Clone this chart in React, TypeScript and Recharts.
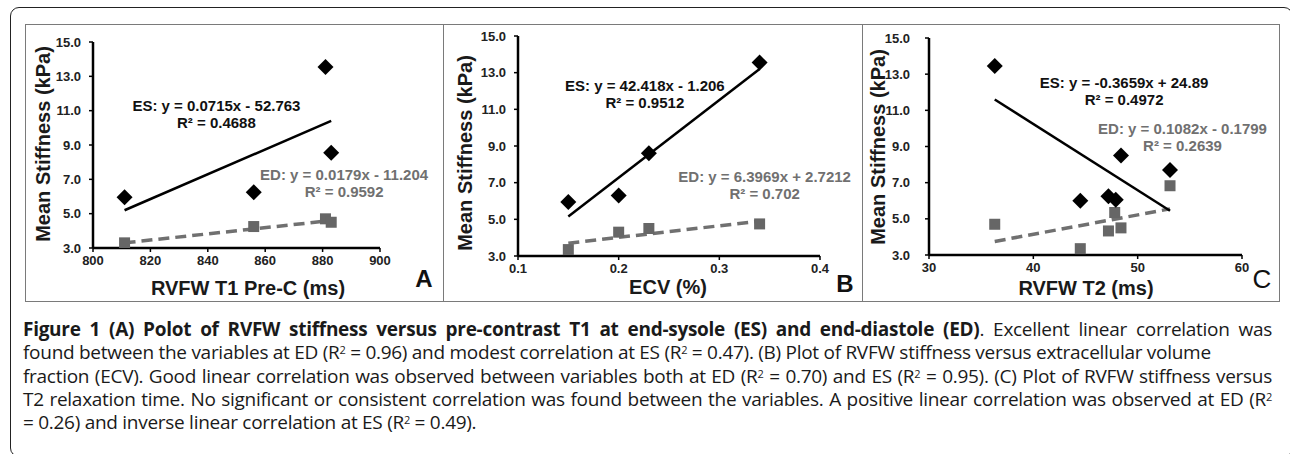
import React from 'react'
import { ScatterChart, Scatter, XAxis, YAxis, ReferenceLine, ReferenceDot } from 'recharts'

// Panel A: RVFW T1 pre-contrast (ms)
const t1EsX = [811, 856, 881, 883]
const t1EsY = [5.95, 6.25, 13.55, 8.55]
const t1EdX = [811, 856, 881, 883]
const t1EdY = [3.3, 4.25, 4.7, 4.5]
const t1EsTrend = [{ x: 811, y: 5.2 }, { x: 883, y: 10.4 }]
const t1EdTrend = [{ x: 811, y: 3.3 }, { x: 883, y: 4.6 }]
const t1Ticks = [800, 820, 840, 860, 880, 900]

// Panel B: ECV (%)
const ecvEsX = [0.15, 0.2, 0.23, 0.34]
const ecvEsY = [5.95, 6.3, 8.6, 13.55]
const ecvEdX = [0.15, 0.2, 0.23, 0.34]
const ecvEdY = [3.35, 4.3, 4.5, 4.75]
const ecvEsTrend = [{ x: 0.15, y: 5.15 }, { x: 0.34, y: 13.2 }]
const ecvEdTrend = [{ x: 0.15, y: 3.7 }, { x: 0.34, y: 4.9 }]
const ecvTicks = [0.1, 0.2, 0.3, 0.4]

// Panel C: RVFW T2 (ms)
const t2EsX = [36.3, 44.5, 47.2, 47.9, 48.4, 53.1]
const t2EsY = [13.45, 6.0, 6.25, 6.05, 8.5, 7.7]
const t2EdX = [36.3, 44.5, 47.2, 47.8, 48.4, 53.1]
const t2EdY = [4.7, 3.35, 4.33, 5.35, 4.5, 6.83]
const t2EsTrend = [{ x: 36.3, y: 11.6 }, { x: 53.1, y: 5.45 }]
const t2EdTrend = [{ x: 36.3, y: 3.75 }, { x: 53.1, y: 5.55 }]
const t2Ticks = [30, 40, 50, 60]

const stiffTicks = [3, 5, 7, 9, 11, 13, 15]

const zip = (xs: number[], ys: number[]) => xs.map((x, i) => ({ x, y: ys[i] }))

const AXIS_FONT = '"Liberation Sans", Arial, sans-serif'
const ED_GRAY = '#707070'

function Diamond(props: any) {
  const { cx, cy } = props
  if (cx == null || cy == null) return <g />
  return <path d={`M${cx},${cy - 8}L${cx + 8},${cy}L${cx},${cy + 8}L${cx - 8},${cy}Z`} fill="#000" />
}

function Square(props: any) {
  const { cx, cy } = props
  if (cx == null || cy == null) return <g />
  return <rect x={cx - 5.5} y={cy - 5.5} width={11} height={11} fill="#666" />
}

function Note({ cx, cy, lines, color }: any) {
  return (
    <text
      x={cx}
      y={cy}
      textAnchor="middle"
      fill={color}
      style={{ fontFamily: AXIS_FONT, fontWeight: 700, fontSize: 15 }}
    >
      {lines.map((l: string, i: number) => (
        <tspan key={i} x={cx} dy={i === 0 ? 5 : 17}>{l}</tspan>
      ))}
    </text>
  )
}

interface PanelProps {
  left: number
  width: number
  margin: { top: number; right: number; bottom: number }
  yAxisWidth: number
  xDomain: [number, number]
  xTicks: number[]
  xFormat: (v: number) => string
  xTitle: string
  xTitlePos: { x: number; y: number }
  yTitlePos: { x: number; y: number }
  yTickMargin: number
  es: { x: number; y: number }[]
  ed: { x: number; y: number }[]
  esTrend: { x: number; y: number }[]
  edTrend: { x: number; y: number }[]
  esNote: { x: number; y: number; lines: string[] }
  edNote: { x: number; y: number; lines: string[] }
  letter: string
  letterPos: { x: number; y: number; size: number; weight: number }
}

function Panel(p: PanelProps) {
  const tickStyle = { fontFamily: AXIS_FONT, fontWeight: 700, fontSize: 13, fill: '#222' }
  return (
    <div
      style={{
        position: 'absolute',
        left: p.left,
        top: 24,
        width: p.width,
        height: 278,
        boxSizing: 'border-box',
        border: '1.5px solid #7a7a7a',
        background: '#fff',
      }}
    >
      <ScatterChart
        width={p.width - 3}
        height={275}
        margin={{ top: p.margin.top, right: p.margin.right, left: 0, bottom: 0 }}
        style={{ position: 'absolute', left: 0, top: 0 }}
      >
        <XAxis
          type="number"
          dataKey="x"
          domain={p.xDomain}
          ticks={p.xTicks}
          tickFormatter={p.xFormat}
          height={p.margin.bottom}
          axisLine={{ stroke: '#000', strokeWidth: 2.5 }}
          tickLine={{ stroke: '#000', strokeWidth: 1.5 }}
          tickSize={4}
          tickMargin={4}
          tick={tickStyle}
          allowDataOverflow
        />
        <YAxis
          type="number"
          dataKey="y"
          domain={[3, 15]}
          ticks={stiffTicks}
          tickFormatter={(v: number) => v.toFixed(1)}
          width={p.yAxisWidth}
          axisLine={{ stroke: '#000', strokeWidth: 2.5 }}
          tickLine={{ stroke: '#000', strokeWidth: 1.5 }}
          tickSize={4}
          tickMargin={p.yTickMargin}
          tick={tickStyle}
          allowDataOverflow
        />
        <ReferenceLine
          segment={p.edTrend}
          stroke={ED_GRAY}
          strokeWidth={3.5}
          strokeDasharray="11 6"
        />
        <ReferenceLine segment={p.esTrend} stroke="#000" strokeWidth={2.5} />
        <Scatter data={p.ed} shape={Square} isAnimationActive={false} />
        <Scatter data={p.es} shape={Diamond} isAnimationActive={false} />
        <ReferenceDot
          x={p.esNote.x}
          y={p.esNote.y}
          r={0}
          shape={(s: any) => <Note cx={s.cx} cy={s.cy} lines={p.esNote.lines} color="#111" />}
        />
        <ReferenceDot
          x={p.edNote.x}
          y={p.edNote.y}
          r={0}
          shape={(s: any) => <Note cx={s.cx} cy={s.cy} lines={p.edNote.lines} color={ED_GRAY} />}
        />
      </ScatterChart>
      <svg
        width={p.width - 3}
        height={275}
        style={{ position: 'absolute', left: 0, top: 0, pointerEvents: 'none' }}
      >
        <text
          x={p.yTitlePos.x}
          y={p.yTitlePos.y}
          transform={`rotate(-90 ${p.yTitlePos.x} ${p.yTitlePos.y})`}
          textAnchor="middle"
          dominantBaseline="central"
          style={{ fontFamily: AXIS_FONT, fontWeight: 700, fontSize: 20, fill: '#1a1a1a' }}
        >
          Mean Stiffness (kPa)
        </text>
        <text
          x={p.xTitlePos.x}
          y={p.xTitlePos.y}
          textAnchor="middle"
          dominantBaseline="central"
          style={{ fontFamily: AXIS_FONT, fontWeight: 700, fontSize: 20, fill: '#1a1a1a' }}
        >
          {p.xTitle}
        </text>
        <text
          x={p.letterPos.x}
          y={p.letterPos.y}
          textAnchor="middle"
          style={{ fontFamily: AXIS_FONT, fontWeight: p.letterPos.weight, fontSize: p.letterPos.size, fill: '#111' }}
        >
          {p.letter}
        </text>
      </svg>
    </div>
  )
}

const Sup = () => (
  <span style={{ fontSize: 11, position: 'relative', top: -5, lineHeight: 0 }}>2</span>
)

const lineStyle: React.CSSProperties = {
  height: 23.25,
  lineHeight: '23.25px',
  textAlign: 'justify',
  textAlignLast: 'justify',
  whiteSpace: 'nowrap',
}

const plainLine: React.CSSProperties = { ...lineStyle, textAlign: 'left', textAlignLast: 'left' }

export default function App() {
  return (
    <div
      style={{
        position: 'fixed',
        left: 0,
        top: 0,
        width: 1290,
        height: 454,
        overflow: 'hidden',
        background: '#fff',
      }}
    >
      <div
        style={{
          position: 'absolute',
          left: 10,
          top: 7,
          width: 1283,
          height: 450,
          boxSizing: 'border-box',
          border: '1.5px solid #222',
          borderRadius: 9,
        }}
      />
      <Panel
        left={25}
        width={419}
        margin={{ top: 17, right: 62, bottom: 52 }}
        yAxisWidth={67}
        yTickMargin={8}
        xDomain={[800, 900]}
        xTicks={t1Ticks}
        xFormat={(v) => String(v)}
        xTitle="RVFW T1 Pre-C (ms)"
        xTitlePos={{ x: 222, y: 263 }}
        yTitlePos={{ x: 17, y: 119 }}
        es={zip(t1EsX, t1EsY)}
        ed={zip(t1EdX, t1EdY)}
        esTrend={t1EsTrend}
        edTrend={t1EdTrend}
        esNote={{ x: 843, y: 11.3, lines: ['ES: y = 0.0715x - 52.763', 'R² = 0.4688'] }}
        edNote={{ x: 887.5, y: 7.25, lines: ['ED: y = 0.0179x - 11.204', 'R² = 0.9592'] }}
        letter="A"
        letterPos={{ x: 398, y: 262, size: 24, weight: 700 }}
      />
      <Panel
        left={443}
        width={420}
        margin={{ top: 11, right: 41, bottom: 44 }}
        yAxisWidth={74}
        yTickMargin={8}
        xDomain={[0.1, 0.4]}
        xTicks={ecvTicks}
        xFormat={(v) => String(v)}
        xTitle="ECV (%)"
        xTitlePos={{ x: 224, y: 262 }}
        yTitlePos={{ x: 21, y: 128 }}
        es={zip(ecvEsX, ecvEsY)}
        ed={zip(ecvEdX, ecvEdY)}
        esTrend={ecvEsTrend}
        edTrend={ecvEdTrend}
        esNote={{ x: 0.226, y: 12.26, lines: ['ES: y = 42.418x - 1.206', 'R² = 0.9512'] }}
        edNote={{ x: 0.345, y: 7.3, lines: ['ED: y = 6.3969x + 2.7212', 'R² = 0.702'] }}
        letter="B"
        letterPos={{ x: 401, y: 267, size: 24, weight: 700 }}
      />
      <Panel
        left={862}
        width={418}
        margin={{ top: 13, right: 36, bottom: 45 }}
        yAxisWidth={66}
        yTickMargin={15}
        xDomain={[30, 60]}
        xTicks={t2Ticks}
        xFormat={(v) => String(v)}
        xTitle="RVFW T2 (ms)"
        xTitlePos={{ x: 223, y: 263 }}
        yTitlePos={{ x: 15, y: 122 }}
        es={zip(t2EsX, t2EsY)}
        ed={zip(t2EdX, t2EdY)}
        esTrend={t2EsTrend}
        edTrend={t2EdTrend}
        esNote={{ x: 48.7, y: 12.49, lines: ['ES: y = -0.3659x + 24.89', 'R² = 0.4972'] }}
        edNote={{ x: 54.3, y: 9.98, lines: ['ED: y = 0.1082x - 0.1799', 'R² = 0.2639'] }}
        letter="C"
        letterPos={{ x: 399, y: 263, size: 26, weight: 400 }}
      />
      <div
        style={{
          position: 'absolute',
          left: 23,
          top: 318,
          width: 1249,
          fontFamily: '"Open Sans", sans-serif',
          fontSize: 19,
          letterSpacing: -0.28,
          color: '#1a1a1a',
        }}
      >
        <div style={lineStyle}>
          <b>Figure 1 (A) Polot of RVFW stiffness versus pre-contrast T1 at end-sysole (ES) and end-diastole (ED)</b>. Excellent linear correlation was
        </div>
        <div style={plainLine}>
          found between the variables at ED (R<Sup /> = 0.96) and modest correlation at ES (R<Sup /> = 0.47). (B) Plot of RVFW stiffness versus extracellular volume
        </div>
        <div style={lineStyle}>
          fraction (ECV). Good linear correlation was observed between variables both at ED (R<Sup /> = 0.70) and ES (R<Sup /> = 0.95). (C) Plot of RVFW stiffness versus
        </div>
        <div style={lineStyle}>
          T2 relaxation time. No significant or consistent correlation was found between the variables. A positive linear correlation was observed at ED (R<Sup />
        </div>
        <div style={plainLine}>
          = 0.26) and inverse linear correlation at ES (R<Sup /> = 0.49).
        </div>
      </div>
    </div>
  )
}
